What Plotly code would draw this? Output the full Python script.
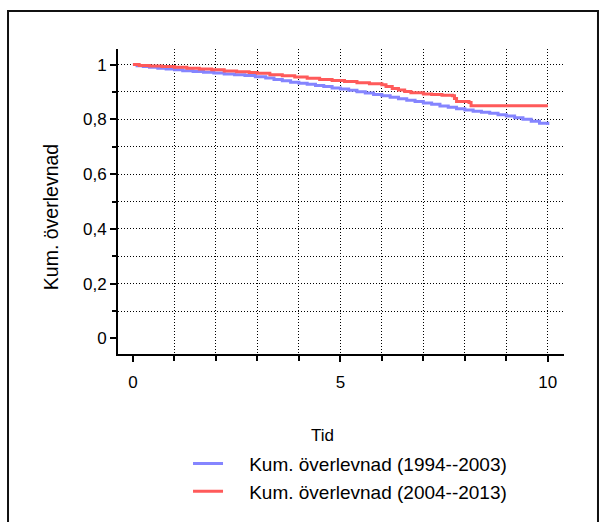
import plotly.graph_objects as go

# Kaplan-Meier step curves: time (years) and cumulative survival
tid_1994 = [0, 0.1, 0.25, 0.4, 0.6, 0.8, 1.0, 1.2, 1.45, 1.7, 1.95, 2.2, 2.45, 2.7,
            2.95, 3.2, 3.4, 3.6, 3.8, 4.0, 4.2, 4.4, 4.6, 4.8, 5.0, 5.2, 5.4, 5.6,
            5.8, 6.0, 6.2, 6.4, 6.6, 6.8, 7.0, 7.2, 7.4, 7.6, 7.8, 8.0, 8.2, 8.4,
            8.6, 8.8, 9.0, 9.2, 9.4, 9.6, 9.8, 10.0]
surv_1994 = [1.0, 0.996, 0.993, 0.990, 0.987, 0.984, 0.981, 0.978, 0.975, 0.972,
             0.969, 0.966, 0.963, 0.960, 0.956, 0.951, 0.946, 0.941, 0.936, 0.932,
             0.928, 0.924, 0.920, 0.915, 0.911, 0.906, 0.901, 0.896, 0.891, 0.886,
             0.881, 0.875, 0.870, 0.865, 0.860, 0.855, 0.849, 0.844, 0.839, 0.834,
             0.830, 0.826, 0.822, 0.817, 0.812, 0.806, 0.800, 0.793, 0.786, 0.779]

tid_2004 = [0, 0.15, 0.4, 0.7, 1.0, 1.3, 1.6, 1.9, 2.2, 2.5, 2.8, 3.0, 3.3, 3.6,
            3.9, 4.2, 4.5, 4.8, 5.1, 5.4, 5.7, 6.0, 6.1, 6.25, 6.4, 6.55, 6.7, 7.0,
            7.2, 7.45, 7.7, 7.75, 7.8, 8.1, 8.15, 10.0]
surv_2004 = [1.0, 0.997, 0.995, 0.993, 0.990, 0.987, 0.984, 0.981, 0.977, 0.974,
             0.971, 0.968, 0.963, 0.959, 0.955, 0.950, 0.946, 0.942, 0.938, 0.934,
             0.930, 0.926, 0.920, 0.913, 0.907, 0.902, 0.897, 0.893, 0.891, 0.888,
             0.886, 0.876, 0.865, 0.862, 0.850, 0.850]

namn = ["Kum. överlevnad (1994--2003)", "Kum. överlevnad (2004--2013)"]
farger = ["#8585ff", "#ff5a5a"]

grid_x = [1, 2, 3, 4, 5, 6, 7, 8, 9, 10]
grid_y = [0.1, 0.2, 0.3, 0.4, 0.5, 0.6, 0.7, 0.8, 0.9, 1.0]

x_range = [-0.36, 10.39]
y_range = [-0.057, 1.057]

FONT = "Liberation Sans, Arial, sans-serif"
PAD = "\u00a0" * 4  # gap between legend line sample and its label

fig = go.Figure()

# empty trace that owns the grid-only axes (drawn underneath the curves)
fig.add_trace(go.Scatter(x=[], y=[], xaxis="x", yaxis="y", showlegend=False,
                         hoverinfo="skip"))

for t, s, n, c in [(tid_1994, surv_1994, namn[0], farger[0]),
                   (tid_2004, surv_2004, namn[1], farger[1])]:
    fig.add_trace(go.Scatter(
        x=t, y=s, name=PAD + n, mode="lines",
        line=dict(color=c, width=3, shape="hv"),
        xaxis="x2", yaxis="y2",
    ))

grid_style = dict(showgrid=True, gridcolor="#000000", gridwidth=1,
                  griddash="1px,2px", showticklabels=False, ticks="",
                  showline=False, zeroline=False, tickmode="array")

tick_style = dict(ticks="outside", ticklen=6, tickwidth=1.5, tickcolor="#000",
                  showline=True, linewidth=2, linecolor="#000", showgrid=False,
                  zeroline=False, tickfont=dict(family=FONT, size=17, color="#000"))

fig.update_layout(
    width=599, height=522,
    margin=dict(l=118, r=35, t=49, b=168, pad=0, autoexpand=False),
    paper_bgcolor="white", plot_bgcolor="white",
    separators=", ",
    font=dict(family=FONT, color="#000"),
    xaxis=dict(range=x_range, tickvals=grid_x, **grid_style),
    yaxis=dict(range=y_range, tickvals=grid_y, **grid_style),
    xaxis2=dict(range=x_range, overlaying="x", anchor="y2", side="bottom",
                tick0=0, dtick=5, ticklabelstandoff=6,
                minor=dict(dtick=1, ticks="outside", ticklen=5, tickwidth=1.5,
                           tickcolor="#000", showgrid=False),
                **tick_style),
    yaxis2=dict(range=y_range, overlaying="y", anchor="x2", side="left",
                tick0=0, dtick=0.2,
                minor=dict(dtick=0.1, ticks="outside", ticklen=4, tickwidth=1.5,
                           tickcolor="#000", showgrid=False),
                **tick_style),
    legend=dict(x=0.157, y=-0.297, xanchor="left", yanchor="top",
                font=dict(family=FONT, size=19, color="#000"),
                bgcolor="rgba(0,0,0,0)", tracegroupgap=0),
    annotations=[
        dict(text="Kum. överlevnad", x=-0.150, y=0.449, xref="paper", yref="paper",
             textangle=-90, showarrow=False, xanchor="center", yanchor="middle",
             font=dict(family=FONT, size=19.5, color="#000")),
        dict(text="Tid", x=0.4596, y=-0.2656, xref="paper", yref="paper",
             showarrow=False, xanchor="center", yanchor="middle",
             font=dict(family=FONT, size=17, color="#000")),
    ],
    shapes=[
        dict(type="rect", xref="paper", yref="paper",
             x0=-0.2466, x1=1.0762, y0=-0.60, y1=1.1246,
             line=dict(color="#111", width=2), fillcolor="rgba(0,0,0,0)",
             layer="below"),
    ],
)

fig.write_html("out.html")
